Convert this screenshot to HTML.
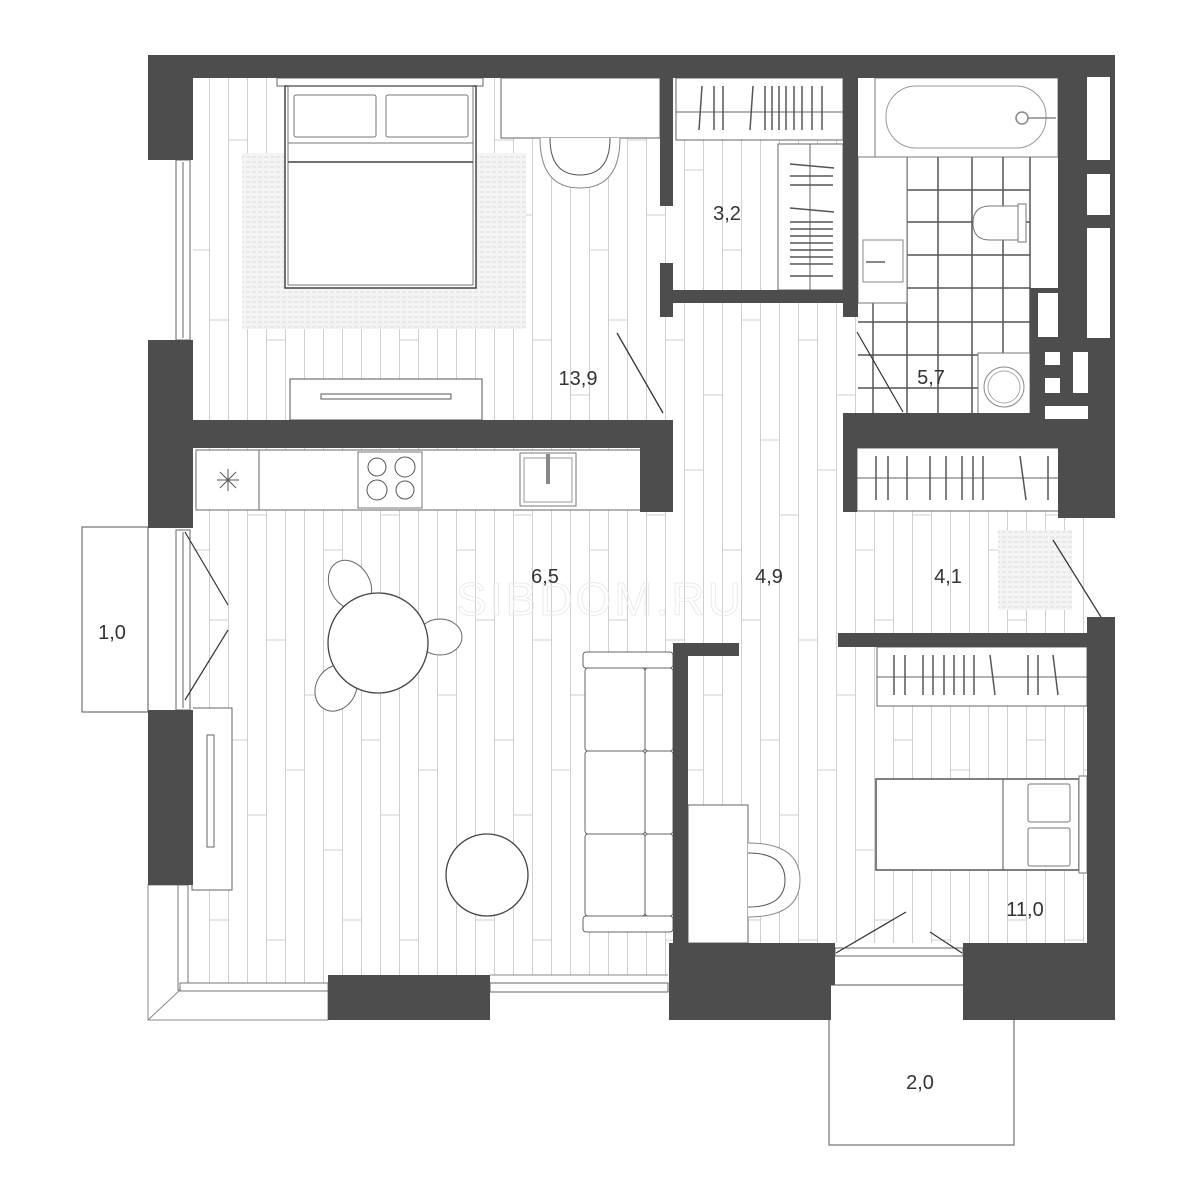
<!DOCTYPE html>
<html><head><meta charset="utf-8"><style>
html,body{margin:0;padding:0;background:#fff;}
svg{display:block;}
.lb{font-family:"Liberation Sans",sans-serif;fill:#333;}
</style></head><body>
<svg width="1200" height="1200" viewBox="0 0 1200 1200" xmlns="http://www.w3.org/2000/svg">
<defs>
<pattern id="fl" x="0" y="0" width="133" height="300" patternUnits="userSpaceOnUse">
<g stroke="#cfcfcf" stroke-width="1">
<line x1="0.5" y1="0" x2="0.5" y2="300"/><line x1="19.5" y1="0" x2="19.5" y2="300"/>
<line x1="38.5" y1="0" x2="38.5" y2="300"/><line x1="57.5" y1="0" x2="57.5" y2="300"/>
<line x1="76.5" y1="0" x2="76.5" y2="300"/><line x1="95.5" y1="0" x2="95.5" y2="300"/>
<line x1="114.5" y1="0" x2="114.5" y2="300"/>
<line x1="0" y1="40" x2="19" y2="40"/><line x1="19" y1="170" x2="38" y2="170"/>
<line x1="38" y1="95" x2="57" y2="95"/><line x1="57" y1="250" x2="76" y2="250"/>
<line x1="76" y1="20" x2="95" y2="20"/><line x1="95" y1="140" x2="114" y2="140"/>
<line x1="114" y1="215" x2="133" y2="215"/>
</g>
</pattern>
<pattern id="rug" width="6" height="5" patternUnits="userSpaceOnUse">
<rect width="6" height="5" fill="#f4f4f4"/><line x1="0" y1="2" x2="4" y2="2" stroke="#ddd" stroke-width="1"/>
</pattern>
</defs>

<rect x="192" y="78" width="895" height="907" fill="url(#fl)"/>

<rect x="858" y="78" width="200" height="342" fill="#fff"/>
<g stroke="#555" stroke-width="1.5" fill="none">
<line x1="907" y1="157" x2="907" y2="420"/><line x1="938" y1="157" x2="938" y2="420"/>
<line x1="972" y1="157" x2="972" y2="420"/><line x1="1003" y1="157" x2="1003" y2="353"/>
<line x1="873" y1="303" x2="873" y2="420"/><line x1="1030" y1="157" x2="1030" y2="420"/>
<line x1="907" y1="190" x2="1030" y2="190"/><line x1="907" y1="222" x2="1030" y2="222"/>
<line x1="907" y1="255" x2="1030" y2="255"/><line x1="858" y1="288" x2="1030" y2="288"/>
<line x1="858" y1="322" x2="1030" y2="322"/><line x1="858" y1="355" x2="978" y2="355"/>
<line x1="858" y1="388" x2="978" y2="388"/>
</g>
<rect x="875" y="78" width="183" height="79" fill="#fff" stroke="#777" stroke-width="1"/>
<rect x="886" y="86" width="160" height="62" rx="30" fill="#fff" stroke="#999" stroke-width="1"/>
<circle cx="1022" cy="118" r="6" fill="none" stroke="#888" stroke-width="1.5"/>
<line x1="1028" y1="118" x2="1056" y2="118" stroke="#888" stroke-width="1.5"/>
<rect x="858" y="157" width="49" height="146" fill="#fff" stroke="#777"/>
<rect x="863" y="240" width="40" height="42" fill="#fff" stroke="#888"/>
<line x1="866" y1="262" x2="885" y2="262" stroke="#888" stroke-width="2"/>
<path d="M1018 206 L990 206 Q973 206 973 223 Q973 240 990 240 L1018 240 Z" fill="#fff" stroke="#777"/>
<rect x="1018" y="204" width="8" height="38" fill="#fff" stroke="#777"/>
<rect x="978" y="353" width="52" height="67" fill="#fff" stroke="#777"/>
<circle cx="1004" cy="387" r="20" fill="#fff" stroke="#888"/><circle cx="1004" cy="387" r="16" fill="none" stroke="#aaa"/>

<rect x="242" y="153" width="284" height="176" fill="url(#rug)"/>
<rect x="277" y="78" width="206" height="8" fill="#fff" stroke="#666"/>
<rect x="285" y="86" width="191" height="202" fill="#fff" stroke="#444" stroke-width="1.5"/>
<rect x="288" y="86" width="185" height="199" fill="none" stroke="#777" stroke-width="1"/>
<rect x="294" y="95" width="82" height="42" rx="2" fill="#fff" stroke="#777"/>
<rect x="386" y="95" width="82" height="42" rx="2" fill="#fff" stroke="#777"/>
<line x1="288" y1="143" x2="473" y2="143" stroke="#777"/>
<line x1="288" y1="162" x2="473" y2="162" stroke="#444" stroke-width="1.5"/>
<rect x="501" y="78" width="159" height="60" fill="#fff" stroke="#666"/>
<path d="M540 138 Q540 188 580 188 Q620 188 620 138" fill="#fff" stroke="#888"/>
<path d="M550 138 Q550 175 580 175 Q610 175 610 138" fill="none" stroke="#555"/>
<rect x="290" y="379" width="192" height="41" fill="#fff" stroke="#555"/>
<rect x="321" y="394" width="130" height="5" fill="#fff" stroke="#555"/>
<line x1="617" y1="333" x2="663" y2="413" stroke="#333" stroke-width="1.3"/>

<rect x="676" y="78" width="167" height="62" fill="#fff" stroke="#666"/>
<line x1="676" y1="112" x2="843" y2="112" stroke="#666"/>
<g stroke="#555" stroke-width="1.5">
<line x1="702" y1="86" x2="699" y2="130"/><line x1="714" y1="86" x2="714" y2="130"/><line x1="723" y1="86" x2="723" y2="130"/>
<line x1="753" y1="86" x2="750" y2="130"/><line x1="765" y1="86" x2="765" y2="130"/><line x1="772" y1="86" x2="772" y2="130"/>
<line x1="779" y1="86" x2="779" y2="130"/><line x1="786" y1="86" x2="786" y2="130"/><line x1="794" y1="86" x2="794" y2="130"/>
<line x1="802" y1="86" x2="802" y2="130"/><line x1="812" y1="86" x2="812" y2="130"/><line x1="822" y1="86" x2="822" y2="130"/>
</g>
<rect x="778" y="144" width="65" height="146" fill="#fff" stroke="#666"/>
<line x1="810" y1="144" x2="810" y2="290" stroke="#666"/>
<g stroke="#555" stroke-width="1.5">
<line x1="790" y1="164" x2="834" y2="168"/><line x1="790" y1="176" x2="833" y2="176"/><line x1="790" y1="185" x2="833" y2="185"/>
<line x1="790" y1="208" x2="834" y2="212"/><line x1="790" y1="222" x2="833" y2="222"/><line x1="790" y1="229" x2="833" y2="229"/>
<line x1="790" y1="236" x2="833" y2="236"/><line x1="790" y1="243" x2="833" y2="243"/><line x1="790" y1="250" x2="833" y2="250"/>
<line x1="790" y1="257" x2="833" y2="257"/><line x1="790" y1="264" x2="833" y2="264"/><line x1="790" y1="276" x2="833" y2="276"/>
</g>

<rect x="196" y="450" width="448" height="60" fill="#fff" stroke="#666"/>
<rect x="196" y="450" width="63" height="60" fill="#fff" stroke="#666"/>
<g stroke="#555" stroke-width="1"><line x1="217" y1="480" x2="239" y2="480"/><line x1="228" y1="469" x2="228" y2="491"/><line x1="220" y1="472" x2="236" y2="488"/><line x1="236" y1="472" x2="220" y2="488"/></g>
<rect x="358" y="452" width="64" height="56" fill="#fff" stroke="#777"/>
<g fill="none" stroke="#555"><circle cx="377" cy="467" r="9"/><circle cx="405" cy="467" r="10"/><circle cx="377" cy="490" r="10"/><circle cx="405" cy="490" r="9"/></g>
<rect x="520" y="453" width="56" height="53" fill="#fff" stroke="#777"/>
<rect x="524" y="458" width="48" height="44" fill="#fff" stroke="#999"/>
<rect x="546" y="454" width="4" height="30" fill="#888"/>

<g fill="#fff" stroke="#666">
<ellipse cx="350" cy="585" rx="20" ry="26" transform="rotate(-30 350 585)"/>
<ellipse cx="440" cy="637" rx="22" ry="18"/>
<ellipse cx="336" cy="688" rx="20" ry="24" transform="rotate(30 336 688)"/>
</g>
<circle cx="378" cy="643" r="50" fill="#fff" stroke="#444" stroke-width="1.3"/>
<circle cx="487" cy="875" r="41" fill="#fff" stroke="#444" stroke-width="1.3"/>
<rect x="192" y="708" width="40" height="182" fill="#fff" stroke="#666"/>
<rect x="207" y="735" width="7" height="112" fill="#fff" stroke="#666"/>
<g fill="#fff" stroke="#666">
<rect x="583" y="652" width="90" height="16" rx="3"/>
<rect x="583" y="916" width="90" height="16" rx="3"/>
<rect x="585" y="668" width="60" height="83" rx="3"/>
<rect x="585" y="751" width="60" height="83" rx="3"/>
<rect x="585" y="834" width="60" height="82" rx="3"/>
<rect x="645" y="668" width="28" height="83" rx="3"/>
<rect x="645" y="751" width="28" height="83" rx="3"/>
<rect x="645" y="834" width="28" height="82" rx="3"/>
</g>
<rect x="148" y="160" width="45" height="180" fill="#fff"/>
<rect x="176" y="160" width="14" height="180" fill="#fff" stroke="#666"/>
<line x1="183" y1="162" x2="183" y2="338" stroke="#666"/>
<rect x="148" y="528" width="45" height="182" fill="#fff"/>
<rect x="176" y="530" width="14" height="180" fill="#fff" stroke="#666"/>
<line x1="183" y1="532" x2="183" y2="708" stroke="#666"/>
<line x1="185" y1="532" x2="228" y2="605" stroke="#333" stroke-width="1.2"/>
<line x1="185" y1="700" x2="228" y2="630" stroke="#333" stroke-width="1.2"/>
<rect x="82" y="527" width="66" height="185" fill="#fff" stroke="#555"/>
<path d="M148 885 L180 885 L180 990 L328 990 L328 1020 L148 1020 Z" fill="#fff" stroke="#888"/>
<line x1="148" y1="1020" x2="180" y2="990" stroke="#888"/>
<rect x="178" y="885" width="10" height="105" fill="#fff" stroke="#777"/>
<rect x="180" y="983" width="148" height="8" fill="#fff" stroke="#777"/>
<rect x="490" y="975" width="178" height="45" fill="#fff"/>
<rect x="490" y="983" width="178" height="9" fill="#fff" stroke="#666"/>
<line x1="490" y1="975" x2="668" y2="975" stroke="#888"/>

<rect x="688" y="805" width="60" height="138" fill="#fff" stroke="#666"/>
<path d="M748 843 Q800 843 800 880 Q800 917 748 917" fill="#fff" stroke="#888"/>
<path d="M748 853 Q785 853 785 880 Q785 907 748 907" fill="none" stroke="#555"/>

<rect x="857" y="448" width="230" height="63" fill="#fff" stroke="#666"/>
<line x1="857" y1="478" x2="1087" y2="478" stroke="#666"/>
<g stroke="#555" stroke-width="1.5">
<line x1="876" y1="456" x2="876" y2="500"/><line x1="888" y1="456" x2="888" y2="500"/><line x1="907" y1="456" x2="907" y2="500"/>
<line x1="930" y1="456" x2="930" y2="500"/><line x1="946" y1="456" x2="946" y2="500"/><line x1="962" y1="456" x2="962" y2="500"/>
<line x1="973" y1="456" x2="973" y2="500"/><line x1="983" y1="456" x2="983" y2="500"/>
<line x1="1020" y1="456" x2="1026" y2="500"/><line x1="1048" y1="456" x2="1048" y2="500"/><line x1="1060" y1="456" x2="1060" y2="500"/>
<line x1="1069" y1="456" x2="1074" y2="500"/>
</g>
<rect x="998" y="530" width="74" height="80" fill="url(#rug)"/>
<line x1="1053" y1="540" x2="1101" y2="617" stroke="#333" stroke-width="1.2"/>

<rect x="877" y="647" width="210" height="59" fill="#fff" stroke="#666"/>
<line x1="877" y1="677" x2="1087" y2="677" stroke="#666"/>
<g stroke="#555" stroke-width="1.5">
<line x1="894" y1="655" x2="894" y2="695"/><line x1="905" y1="655" x2="905" y2="695"/><line x1="923" y1="655" x2="923" y2="695"/>
<line x1="933" y1="655" x2="933" y2="695"/><line x1="944" y1="655" x2="944" y2="695"/><line x1="954" y1="655" x2="954" y2="695"/>
<line x1="964" y1="655" x2="964" y2="695"/><line x1="974" y1="655" x2="974" y2="695"/><line x1="990" y1="655" x2="995" y2="695"/>
<line x1="1028" y1="655" x2="1028" y2="695"/><line x1="1038" y1="655" x2="1038" y2="695"/><line x1="1053" y1="655" x2="1058" y2="695"/>
</g>
<rect x="876" y="779" width="203" height="91" fill="#fff" stroke="#555" stroke-width="1.5"/>
<line x1="1003" y1="779" x2="1003" y2="870" stroke="#555"/>
<rect x="1028" y="784" width="42" height="38" rx="2" fill="#fff" stroke="#777"/>
<rect x="1028" y="828" width="42" height="38" rx="2" fill="#fff" stroke="#777"/>
<rect x="1079" y="776" width="8" height="97" fill="#fff" stroke="#777"/>
<rect x="835" y="943" width="128" height="42" fill="#fff"/>
<rect x="835" y="948" width="128" height="8" fill="#fff" stroke="#666"/>
<line x1="836" y1="953" x2="906" y2="912" stroke="#333" stroke-width="1.2"/>
<line x1="930" y1="932" x2="962" y2="953" stroke="#333" stroke-width="1.2"/>
<rect x="829" y="985" width="185" height="160" fill="#fff" stroke="#555"/>
<line x1="857" y1="332" x2="903" y2="412" stroke="#333" stroke-width="1.2"/>

<g fill="#4d4d4d">
<rect x="148" y="55" width="967" height="23"/>
<rect x="148" y="55" width="45" height="105"/>
<rect x="148" y="340" width="45" height="188"/>
<rect x="148" y="710" width="45" height="175"/>
<rect x="148" y="420" width="525" height="28"/>
<rect x="640" y="420" width="33" height="92"/>
<rect x="660" y="78" width="13" height="128"/>
<rect x="660" y="263" width="13" height="54"/>
<rect x="660" y="290" width="198" height="13"/>
<rect x="843" y="78" width="15" height="239"/>
<rect x="1058" y="55" width="57" height="463"/>
<rect x="1030" y="288" width="30" height="132"/>
<rect x="843" y="413" width="272" height="35"/>
<rect x="843" y="413" width="14" height="99"/>
<rect x="1087" y="617" width="28" height="368"/>
<rect x="838" y="633" width="249" height="14"/>
<rect x="673" y="643" width="15" height="342"/>
<rect x="673" y="643" width="66" height="13"/>
<rect x="669" y="943" width="166" height="42"/>
<rect x="963" y="943" width="152" height="42"/>
<rect x="328" y="975" width="162" height="45"/>
<rect x="669" y="975" width="162" height="45"/>
<rect x="963" y="975" width="152" height="45"/>
</g>
<g fill="#fff">
<rect x="1087" y="77" width="23" height="83"/>
<rect x="1087" y="174" width="23" height="41"/>
<rect x="1087" y="228" width="23" height="110"/>
<rect x="1038" y="293" width="20" height="44"/>
<rect x="1045" y="352" width="15" height="13"/>
<rect x="1045" y="378" width="15" height="15"/>
<rect x="1073" y="352" width="15" height="41"/>
<rect x="1045" y="406" width="43" height="13"/>
</g>

<text x="600" y="615" font-size="46" text-anchor="middle" letter-spacing="3" style="font-family:'Liberation Sans',sans-serif;fill:none;stroke:#ebebeb;stroke-width:1">SIBDOM.RU</text>

<g font-size="20" class="lb">
<text class="lb" x="578" y="385" text-anchor="middle">13,9</text>
<text class="lb" x="727" y="220" text-anchor="middle">3,2</text>
<text class="lb" x="931" y="384" text-anchor="middle">5,7</text>
<text class="lb" x="545" y="583" text-anchor="middle">6,5</text>
<text class="lb" x="769" y="583" text-anchor="middle">4,9</text>
<text class="lb" x="948" y="583" text-anchor="middle">4,1</text>
<text class="lb" x="112" y="639" text-anchor="middle">1,0</text>
<text class="lb" x="1025" y="916" text-anchor="middle">11,0</text>
<text class="lb" x="920" y="1089" text-anchor="middle">2,0</text>
</g>
</svg>
</body></html>
